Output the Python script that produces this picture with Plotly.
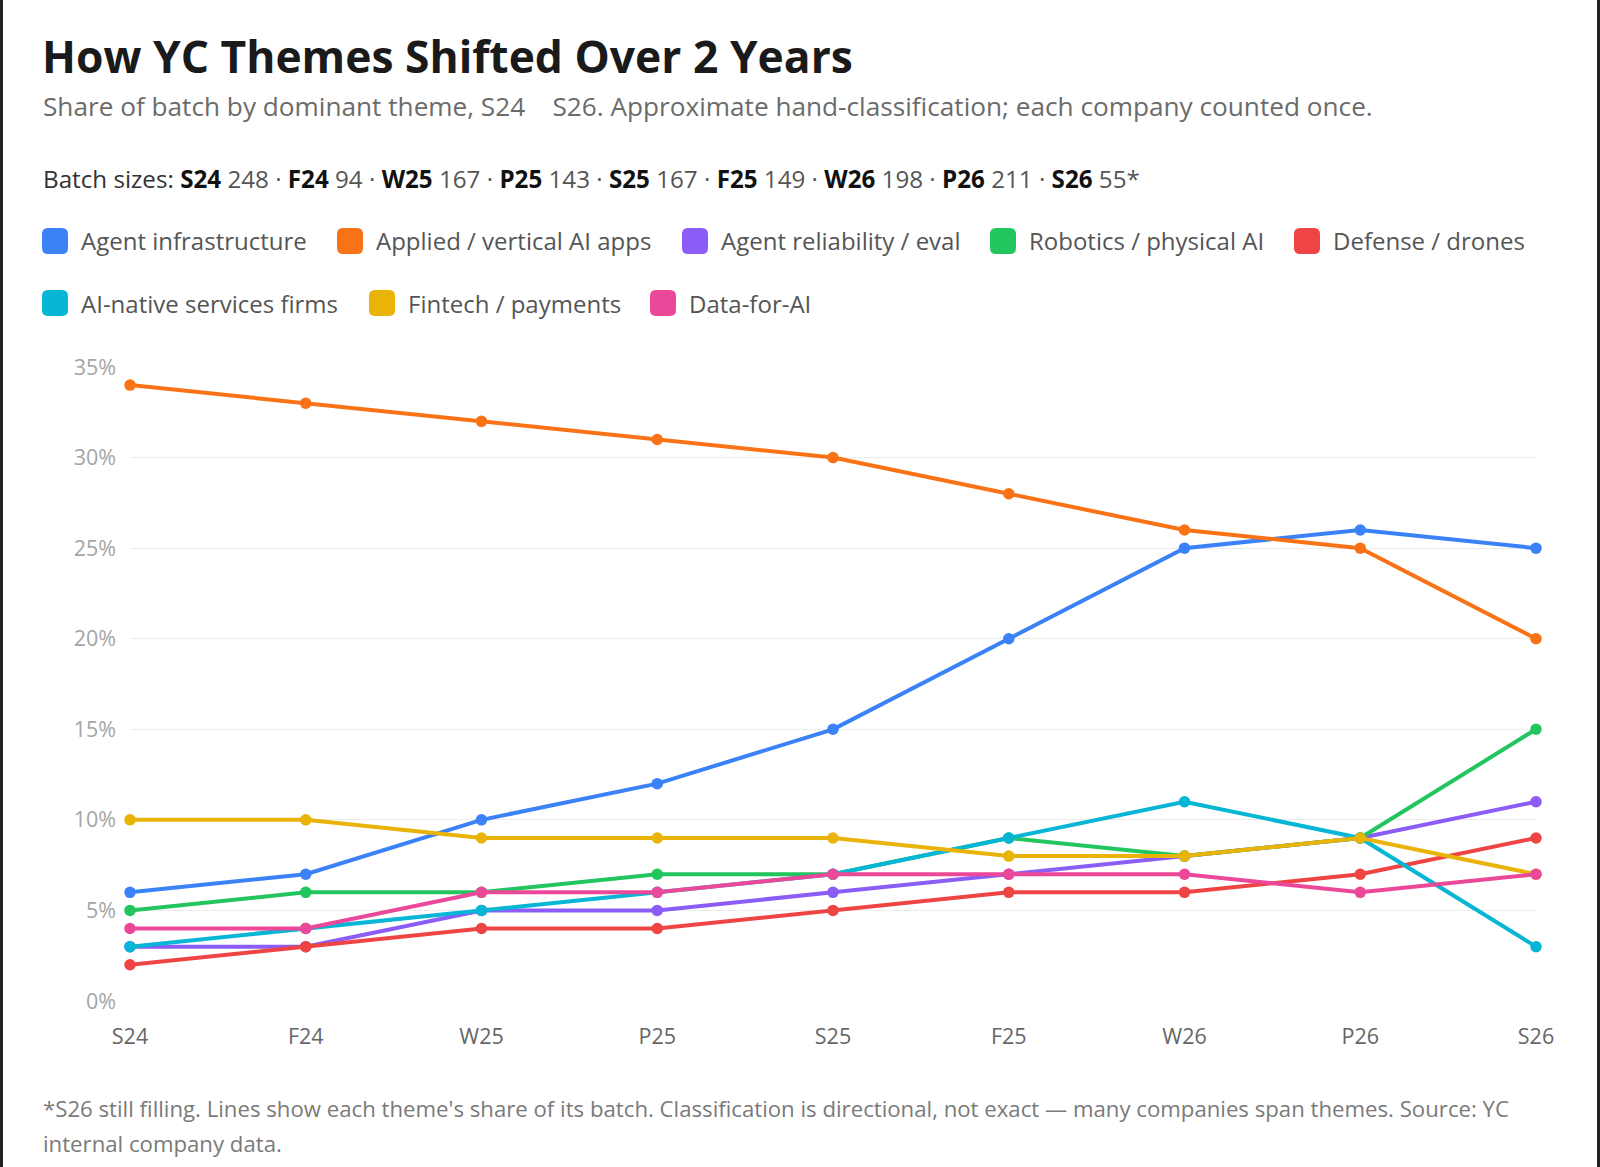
import plotly.graph_objects as go

batches = ["S24", "F24", "W25", "P25", "S25", "F25", "W26", "P26", "S26"]
batch_sizes = ["248", "94", "167", "143", "167", "149", "198", "211", "55*"]

theme_names = [
    "Agent infrastructure",
    "Applied / vertical AI apps",
    "Agent reliability / eval",
    "Robotics / physical AI",
    "Defense / drones",
    "AI-native services firms",
    "Fintech / payments",
    "Data-for-AI",
]
agent_infra = [6, 7, 10, 12, 15, 20, 25, 26, 25]
applied_ai = [34, 33, 32, 31, 30, 28, 26, 25, 20]
agent_reliability = [3, 3, 5, 5, 6, 7, 8, 9, 11]
robotics = [5, 6, 6, 7, 7, 9, 8, 9, 15]
defense = [2, 3, 4, 4, 5, 6, 6, 7, 9]
ai_services = [3, 4, 5, 6, 7, 9, 11, 9, 3]
fintech = [10, 10, 9, 9, 9, 8, 8, 9, 7]
data_for_ai = [4, 4, 6, 6, 7, 7, 7, 6, 7]

series = [agent_infra, applied_ai, agent_reliability, robotics, defense,
          ai_services, fintech, data_for_ai]
colors = ["#3b82f6", "#f97316", "#8b5cf6", "#22c55e", "#ef4444",
          "#06b6d4", "#eab308", "#ec4899"]

W, H = 1600, 1167
L, R, T, B = 130, 64, 367, 166
PW, PH = W - L - R, H - T - B
FONT = "Open Sans"


def px(x):
    return (x - L) / PW


def py(y):
    return 1 - (y - T) / PH


fig = go.Figure()
for name, vals, col in zip(theme_names, series, colors):
    fig.add_trace(go.Scatter(
        x=batches, y=vals, name=name, mode="lines+markers",
        line=dict(color=col, width=4),
        marker=dict(color=col, size=11.5),
        cliponaxis=False, showlegend=False,
        hovertemplate="%{x}: %{y}%<extra>" + name + "</extra>",
    ))

annotations = []
shapes = []


def text(x, y, s, size, color):
    annotations.append(dict(
        x=px(x), y=py(y), xref="paper", yref="paper", text=s, showarrow=False,
        xanchor="left", yanchor="middle",
        font=dict(family=FONT, size=size, color=color), align="left",
    ))


text(40, 56, "<b>How YC Themes Shifted Over 2 Years</b>", 44.4, "#1a1a1a")
text(41, 106, "Share of batch by dominant theme, S24\u00a0\u00a0\u00a0\u00a0S26. "
     "Approximate hand-classification; each company counted once.", 26.2, "#6b6b6b")

parts = [f"<span style='color:#111'><b>{b}</b></span> {s}" for b, s in zip(batches, batch_sizes)]
text(41, 178, "<span style='color:#333'>Batch sizes:</span> " + " · ".join(parts), 24.2, "#555")

legend_pos = [
    (42, 241), (337, 241), (682, 241), (990, 241), (1294, 241),
    (42, 303), (369, 303), (650, 303),
]
SW = 26
RAD = 6
for (lx, ly), name, col in zip(legend_pos, theme_names, colors):
    x0, x1 = lx, lx + SW
    y0, y1 = ly - SW / 2, ly + SW / 2
    pts = [
        ("M", x0 + RAD, y0), ("L", x1 - RAD, y0), ("Q", x1, y0, x1, y0 + RAD),
        ("L", x1, y1 - RAD), ("Q", x1, y1, x1 - RAD, y1), ("L", x0 + RAD, y1),
        ("Q", x0, y1, x0, y1 - RAD), ("L", x0, y0 + RAD), ("Q", x0, y0, x0 + RAD, y0),
    ]
    path = ""
    for p in pts:
        cmd = p[0]
        coords = p[1:]
        segs = []
        for i in range(0, len(coords), 2):
            segs.append(f"{px(coords[i]):.6f},{py(coords[i + 1]):.6f}")
        path += cmd + " ".join(segs) + " "
    path += "Z"
    shapes.append(dict(type="path", xref="paper", yref="paper", path=path,
                       fillcolor=col, line=dict(width=0)))
    text(lx + SW + 11, ly, name, 24, "#555")

text(41, 1108, "*S26 still filling. Lines show each theme's share of its batch. "
     "Classification is directional, not exact — many companies span themes. Source: YC",
     22.2, "#7a7a7a")
text(41, 1143, "internal company data.", 22.2, "#7a7a7a")

# window border edges
shapes.append(dict(type="rect", xref="paper", yref="paper", x0=px(0), x1=px(3),
                   y0=py(H), y1=py(0), fillcolor="#222", line=dict(width=0), layer="above"))
shapes.append(dict(type="rect", xref="paper", yref="paper", x0=px(1597), x1=px(1600),
                   y0=py(H), y1=py(0), fillcolor="#222", line=dict(width=0), layer="above"))

fig.update_layout(
    width=W, height=H,
    margin=dict(l=L, r=R, t=T, b=B, pad=0),
    paper_bgcolor="white", plot_bgcolor="white",
    font=dict(family=FONT),
    annotations=annotations, shapes=shapes,
    xaxis=dict(range=[0, 8], showgrid=False, zeroline=False, showline=False,
               ticks="", tickfont=dict(size=21.5, color="#666"), ticklabelstandoff=20,
               fixedrange=True),
    yaxis=dict(range=[0, 35], dtick=5, ticksuffix="%", showgrid=True,
               gridcolor="#ececec", gridwidth=1, zeroline=False, showline=False,
               ticks="", tickfont=dict(size=21.5, color="#a5a5a5"), ticklabelstandoff=13,
               fixedrange=True),
    hovermode="closest",
)

fig.write_html("out.html")
